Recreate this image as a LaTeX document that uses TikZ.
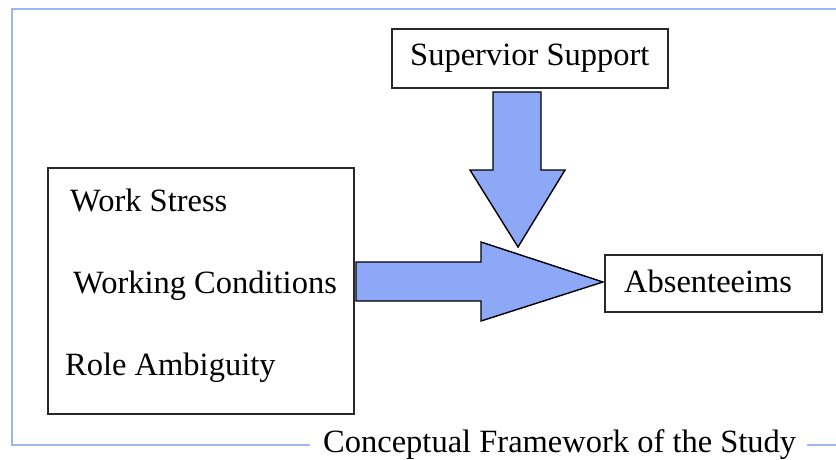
\documentclass[tikz,border=0pt]{standalone}
\usepackage{fontspec}
\setmainfont{Liberation Serif}
\definecolor{arrowfill}{RGB}{140,168,246}
\definecolor{framecol}{RGB}{160,180,248}
\definecolor{boxline}{RGB}{40,40,40}
\tikzset{
  box/.style={draw=boxline, line width=1.8pt, fill=white, inner sep=0pt},
  lbl/.style={anchor=base west, inner sep=0pt, font=\fontsize{32.5}{38}\selectfont},
  blockarrow/.style={draw=black, line width=1.4pt, fill=arrowfill, line join=miter},
  framestyle/.style={draw=framecol, line width=1.6pt}
}
\begin{document}
\begin{tikzpicture}[x=1pt,y=-1pt]
\useasboundingbox (0,0) rectangle (836,460);
% frame
\draw[framestyle] (310,445) -- (12,445) -- (12,9) -- (836,9);
\draw[framestyle] (807,445) -- (836,445);
\node[lbl] (cap) at (323,452) {Conceptual Framework of the Study};
% block arrows
\draw[blockarrow] (356,262) -- (481,262) -- (481,242) -- (603,282) -- (481,321) -- (481,301) -- (356,301) -- cycle;
\draw[blockarrow] (493,92) -- (541,92) -- (541,170) -- (565,170) -- (518,247) -- (470,170) -- (493,170) -- cycle;
% boxes
\node[box, minimum width=276, minimum height=59] (sup) at (530,58.5) {};
\node[box, minimum width=306, minimum height=246] (src) at (201,291) {};
\node[box, minimum width=217, minimum height=57] (abs) at (713.5,283.5) {};
% labels
\node[lbl] (tsup) at (410,66) {Supervior Support};
\node[lbl] (tws) at (70,211) {Work Stress};
\node[lbl] (twc) at (73,293) {Working Conditions};
\node[lbl] (tra) at (65,375) {Role Ambiguity};
\node[lbl] (tabs) at (624,292) {Absenteeims};
\end{tikzpicture}
\end{document}
